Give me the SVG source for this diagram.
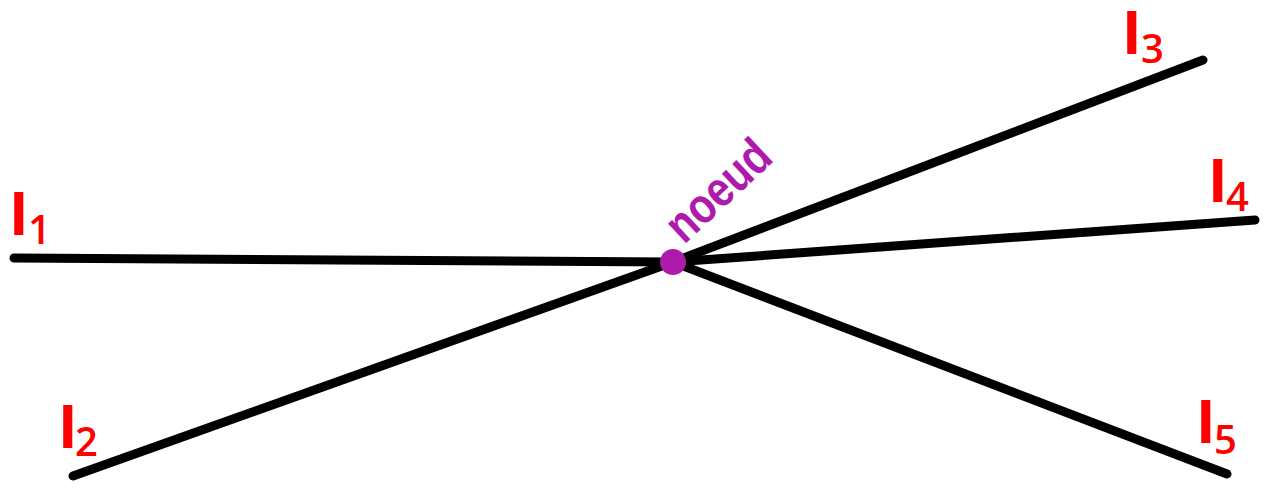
<svg xmlns="http://www.w3.org/2000/svg" width="1267" height="489" viewBox="0 0 1267 489">
<style>
.wire{stroke:#000;stroke-width:9;stroke-linecap:round;fill:none}
.lbl{fill:#FF0000;font-family:"Liberation Sans",Arial,sans-serif}
.big{font-weight:bold;font-size:63px}
.sub{font-size:40px;font-family:"Open Sans","Liberation Sans",sans-serif;font-weight:600}
.node{fill:#AD1AAC}
.nlbl{fill:#AD1AAC;font-family:"Liberation Sans",Arial,sans-serif;font-weight:bold;font-size:50px}
</style>
<rect width="1267" height="489" fill="#fff"/>
<g id="connectors">
<line class="wire" x1="14" y1="258" x2="673" y2="262"/>
<line class="wire" x1="73" y1="476" x2="673" y2="262"/>
<line class="wire" x1="673" y1="262" x2="1203" y2="60"/>
<line class="wire" x1="673" y1="262" x2="1255" y2="220"/>
<line class="wire" x1="673" y1="262" x2="1227" y2="474"/>
</g>
<g id="noeud">
<circle class="node" cx="673" cy="262" r="13"/>
<text class="nlbl" transform="translate(684,245) rotate(-43) scale(0.83,1)">noeud</text>
</g>
<g id="I1"><text class="lbl"><tspan class="big" x="10" y="235">I</tspan><tspan class="sub" x="28" y="244" font-weight="bold">1</tspan></text></g>
<g id="I2"><text class="lbl"><tspan class="big" x="59" y="448">I</tspan><tspan class="sub" x="75" y="456">2</tspan></text></g>
<g id="I3"><text class="lbl"><tspan class="big" x="1123" y="54">I</tspan><tspan class="sub" x="1141" y="63">3</tspan></text></g>
<g id="I4"><text class="lbl"><tspan class="big" x="1209" y="202">I</tspan><tspan class="sub" x="1226" y="211">4</tspan></text></g>
<g id="I5"><text class="lbl"><tspan class="big" x="1197" y="443">I</tspan><tspan class="sub" x="1214" y="454">5</tspan></text></g>
</svg>
